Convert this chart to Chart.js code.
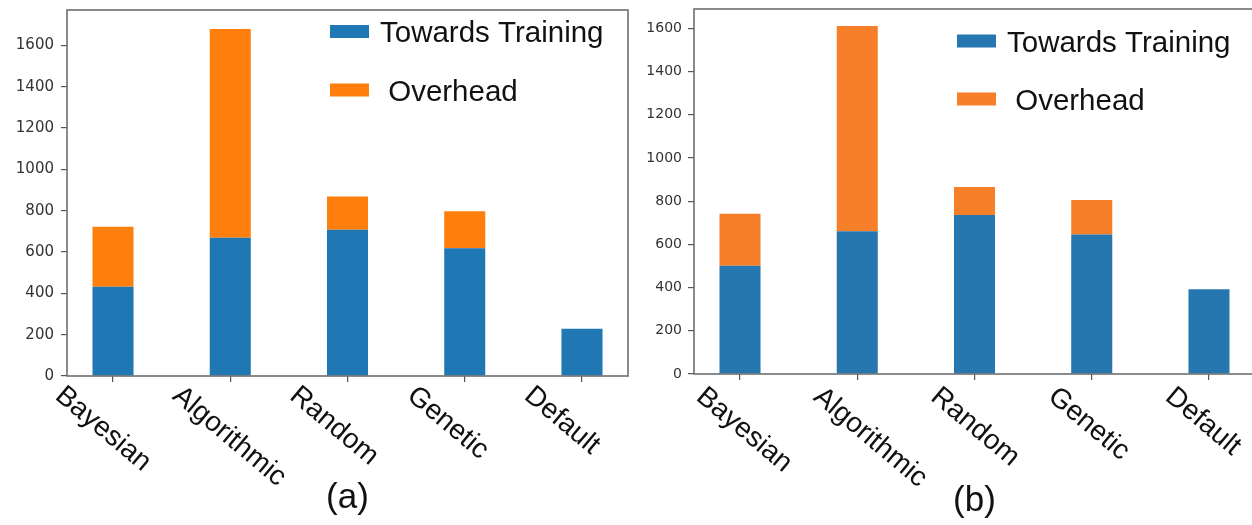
<!DOCTYPE html>
<html>
<head>
<meta charset="utf-8">
<title>Training time vs overhead</title>
<script src="https://cdn.jsdelivr.net/npm/chart.js@4.4.0/dist/chart.umd.min.js"></script>
<style>
  html, body { margin: 0; padding: 0; background: #fff; overflow: hidden; }
  #wrap { position: relative; width: 1252px; height: 525px; overflow: hidden; }
  canvas { position: absolute; top: 0; }
  #chartA { left: 0; }
  #chartB { left: 640px; }
</style>
</head>
<body>
<div id="wrap">
  <canvas id="chartA" width="640" height="525"></canvas>
  <canvas id="chartB" width="630" height="525"></canvas>
</div>
<script>
var methods = ['Bayesian', 'Algorithmic', 'Random', 'Genetic', 'Default'];
var legendLabels = ['Towards Training', ' Overhead'];
var yTickValues = [0, 200, 400, 600, 800, 1000, 1200, 1400, 1600];

// (a)
var trainingA = [432, 669, 708, 618, 229];
var overheadA = [290, 1010, 161, 179, 0];
// (b)
var trainingB = [501, 660, 736, 646, 392];
var overheadB = [241, 950, 129, 159, 0];

var yMaxA = 1771;
var yMaxB = 1689;

// bars sit on integer positions, like a matplotlib bar plot
function points(values) {
    return values.map(function (v, i) { return { x: i, y: v }; });
}

var panelDecor = {
    id: 'panelDecor',
    afterDraw: function (chart, args, opts) {
        var ctx = chart.ctx;
        var area = chart.chartArea;
        var xScale = chart.scales.x;
        ctx.save();

        // axes box
        ctx.strokeStyle = '#6e6e6e';
        ctx.lineWidth = 1.6;
        ctx.strokeRect(area.left, area.top, area.right - area.left, area.bottom - area.top);

        // slanted method names
        ctx.fillStyle = '#111';
        ctx.font = opts.labelFont;
        ctx.textAlign = 'left';
        ctx.textBaseline = 'alphabetic';
        methods.forEach(function (name, i) {
            var x = xScale.getPixelForValue(i);
            ctx.save();
            ctx.translate(x + opts.labelDx, area.bottom + opts.labelDy);
            ctx.rotate(opts.labelAngle * Math.PI / 180);
            ctx.fillText(name, 0, 0);
            ctx.restore();
        });

        // legend in the upper right of the axes
        ctx.font = opts.legendFont;
        chart.data.datasets.forEach(function (ds, i) {
            var cy = area.top + opts.legendTop + i * opts.legendGap;
            var lx = area.left + opts.legendLeft;
            ctx.fillStyle = ds.backgroundColor;
            ctx.fillRect(lx, cy - 6.5, 39, 13);
            ctx.fillStyle = '#111';
            ctx.fillText(ds.label, lx + 50, cy + 10.5);
        });

        // panel caption
        ctx.font = opts.captionFont;
        ctx.textAlign = 'center';
        ctx.fillStyle = '#111';
        ctx.fillText(opts.caption, (area.left + area.right) / 2, opts.captionY);
        ctx.restore();
    }
};

function makeChart(canvasId, training, overhead, colors, cfg) {
    return new Chart(document.getElementById(canvasId), {
        type: 'bar',
        data: {
            datasets: [
                {
                    label: legendLabels[0],
                    data: points(training),
                    backgroundColor: colors[0],
                    borderWidth: 0
                },
                {
                    label: legendLabels[1],
                    data: points(overhead),
                    backgroundColor: colors[1],
                    borderWidth: 0
                }
            ]
        },
        options: {
            responsive: false,
            devicePixelRatio: 1,
            animation: false,
            categoryPercentage: 1,
            barPercentage: 0.35,
            layout: { padding: cfg.padding },
            plugins: {
                legend: { display: false },
                tooltip: { enabled: false },
                panelDecor: cfg.decor
            },
            scales: {
                x: {
                    type: 'linear',
                    stacked: true,
                    offset: false,
                    min: -0.3925,
                    max: 4.3925,
                    grid: { offset: false, drawOnChartArea: false, drawTicks: true, tickLength: 6, color: '#555', lineWidth: 1.2 },
                    border: { display: false },
                    ticks: { display: false, stepSize: 1, includeBounds: false },
                    afterFit: function (scale) {
                        scale.height = cfg.xHeight;
                        scale.paddingLeft = 0;
                        scale.paddingRight = 0;
                    }
                },
                y: {
                    stacked: true,
                    min: 0,
                    max: cfg.yMax,
                    grid: { drawOnChartArea: false, drawTicks: true, tickLength: 6, color: '#555', lineWidth: 1.2 },
                    border: { display: false },
                    afterBuildTicks: function (scale) {
                        scale.ticks = yTickValues.map(function (v) { return { value: v }; });
                    },
                    ticks: {
                        padding: cfg.tickPad,
                        color: '#333',
                        font: { family: 'DejaVu Sans', size: cfg.tickSize },
                        callback: function (value) { return String(value); }
                    },
                    afterFit: function (scale) {
                        scale.width = cfg.yWidth;
                        scale.paddingTop = 0;
                        scale.paddingBottom = 0;
                    }
                }
            }
        },
        plugins: [panelDecor]
    });
}

makeChart('chartA', trainingA, overheadA, ['#1f77b4', '#ff7f0e'], {
    padding: { top: 10, right: 12, left: 0, bottom: 0 },
    xHeight: 149,
    yWidth: 67,
    yMax: yMaxA,
    tickPad: 7,
    tickSize: 15,
    decor: {
        labelFont: '28px "Liberation Sans", Arial, sans-serif',
        labelAngle: 40,
        labelDx: -59,
        labelDy: 22,
        legendFont: '29.5px "Liberation Sans", Arial, sans-serif',
        legendLeft: 263,
        legendTop: 21.5,
        legendGap: 58.5,
        captionFont: '35px "Liberation Sans", Arial, sans-serif',
        caption: '(a)',
        captionY: 508
    }
});

// the right edge of this panel runs past the page
makeChart('chartB', trainingB, overheadB, ['#2677b0', '#f77f2a'], {
    padding: { top: 9, right: 15, left: 0, bottom: 0 },
    xHeight: 151,
    yWidth: 54,
    yMax: yMaxB,
    tickPad: 6,
    tickSize: 14,
    decor: {
        labelFont: '28px "Liberation Sans", Arial, sans-serif',
        labelAngle: 40,
        labelDx: -45,
        labelDy: 25,
        legendFont: '29.5px "Liberation Sans", Arial, sans-serif',
        legendLeft: 263,
        legendTop: 32,
        legendGap: 58,
        captionFont: '35px "Liberation Sans", Arial, sans-serif',
        caption: '(b)',
        captionY: 511
    }
});
</script>
</body>
</html>
